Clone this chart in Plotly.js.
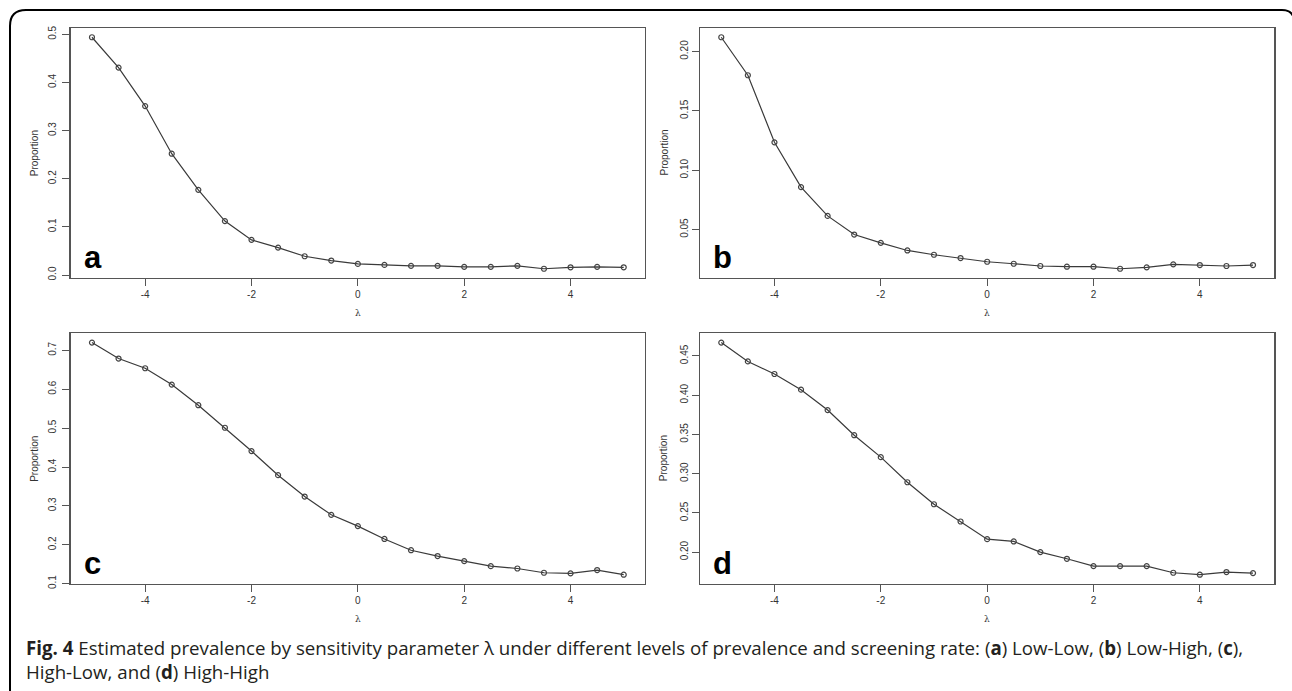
<!DOCTYPE html>
<html>
<head>
<meta charset="utf-8">
<script src="https://cdn.plot.ly/plotly-3.0.1.min.js"></script>
<style>
  html, body { margin: 0; padding: 0; background: #ffffff; }
  #chart { width: 1292px; height: 691px; }
</style>
</head>
<body>
<div id="chart"></div>
<script>
// ---- data ----
const lambdaValues = [-5, -4.5, -4, -3.5, -3, -2.5, -2, -1.5, -1, -0.5, 0, 0.5, 1, 1.5, 2, 2.5, 3, 3.5, 4, 4.5, 5];
const lowLow   = [0.494, 0.431, 0.351, 0.252, 0.177, 0.112, 0.073, 0.057, 0.039, 0.030, 0.023, 0.021, 0.019, 0.019, 0.017, 0.017, 0.019, 0.013, 0.016, 0.017, 0.016];
const lowHigh  = [0.212, 0.180, 0.1235, 0.0858, 0.0615, 0.0458, 0.0388, 0.0324, 0.0288, 0.026, 0.0229, 0.0212, 0.0193, 0.0187, 0.0187, 0.017, 0.0182, 0.0207, 0.0201, 0.0193, 0.0201];
const highLow  = [0.720, 0.679, 0.654, 0.612, 0.559, 0.501, 0.441, 0.379, 0.324, 0.277, 0.248, 0.215, 0.186, 0.171, 0.158, 0.145, 0.139, 0.128, 0.1265, 0.135, 0.123];
const highHigh = [0.467, 0.443, 0.427, 0.407, 0.381, 0.349, 0.321, 0.289, 0.261, 0.239, 0.2165, 0.2136, 0.200, 0.1915, 0.1822, 0.1822, 0.1822, 0.1737, 0.1712, 0.1746, 0.1733];
const panelLetters = ["a", "b", "c", "d"];
const xTickValues = [-4, -2, 0, 2, 4];
const yTickStep = [0.1, 0.05, 0.1, 0.05];
const yTickFormat = [".1f", ".2f", ".1f", ".2f"];
const yAxisTitle = "Proportion";
const xAxisTitle = "λ";
const captionText = "<b>Fig. 4</b> Estimated prevalence by sensitivity parameter λ under different levels of prevalence and screening rate: (<b>a</b>) Low-Low, (<b>b</b>) Low-High, (<b>c</b>),<br>High-Low, and (<b>d</b>) High-High";

// ---- layout helpers ----
const W = 1292, H = 691;
const px = v => v / W;
const py = v => 1 - v / H;

const series = [lowLow, lowHigh, highLow, highHigh];
const boxes = [
  {l: 70.7, r: 645,    t: 28,    b: 278, lblShift: 2},
  {l: 700,  r: 1274.3, t: 28,    b: 278, lblShift: 0},
  {l: 70.7, r: 645,    t: 333.3, b: 584, lblShift: 2},
  {l: 700,  r: 1274.3, t: 333.3, b: 584, lblShift: 0}
];

const tickFont = {family: "Liberation Sans, Arial, sans-serif", size: 10, color: "#333333"};
const traces = [];
const layout = {
  width: W, height: H,
  margin: {l: 0, r: 0, t: 0, b: 0},
  paper_bgcolor: "#ffffff",
  plot_bgcolor: "#ffffff",
  showlegend: false,
  annotations: [],
  shapes: []
};

function rRange(arr) {
  const mn = Math.min(...arr), mx = Math.max(...arr);
  const pad = (mx - mn) * 0.04;
  return [mn - pad, mx + pad];
}

series.forEach((ys, i) => {
  const n = i + 1;
  const xa = n === 1 ? "x" : "x" + n;
  const ya = n === 1 ? "y" : "y" + n;
  traces.push({
    x: lambdaValues, y: ys, xaxis: xa, yaxis: ya,
    type: "scatter", mode: "lines+markers",
    line: {color: "#3a3a3a", width: 1.2},
    marker: {symbol: "circle-open", size: 5, color: "#444444", line: {width: 1.2}},
    hoverinfo: "x+y"
  });
  const bx = boxes[i];
  const xRange = [-5.4, 5.4];
  const yRange = rRange(ys);
  const tick0 = Math.ceil(yRange[0] / yTickStep[i] - 1e-9) * yTickStep[i];
  layout["xaxis" + (n === 1 ? "" : n)] = {
    domain: [px(bx.l), px(bx.r)],
    anchor: ya,
    range: xRange,
    tickmode: "array", tickvals: xTickValues,
    ticktext: xTickValues.map(String),
    ticks: "outside", ticklen: 7, tickwidth: 1, tickcolor: "#555555",
    showline: true, mirror: true, linecolor: "#555555", linewidth: 1.3,
    showgrid: false, zeroline: false,
    tickfont: tickFont, fixedrange: true
  };
  layout["yaxis" + (n === 1 ? "" : n)] = {
    domain: [py(bx.b), py(bx.t)],
    anchor: xa,
    range: yRange,
    tickmode: "linear", tick0: tick0, dtick: yTickStep[i],
    tickformat: yTickFormat[i],
    tickangle: -90,
    ticklabelstandoff: bx.lblShift,
    ticks: "outside", ticklen: 7, tickwidth: 1, tickcolor: "#555555",
    showline: true, mirror: true, linecolor: "#555555", linewidth: 1.3,
    showgrid: false, zeroline: false,
    tickfont: tickFont, fixedrange: true
  };
  // y title
  layout.annotations.push({
    xref: "paper", yref: "paper",
    x: px(bx.l - 36.5), y: py((bx.t + bx.b) / 2),
    text: yAxisTitle, textangle: -90, showarrow: false,
    xanchor: "center", yanchor: "middle",
    font: {family: "Liberation Sans, Arial, sans-serif", size: 10, color: "#333333"}
  });
  // x title
  layout.annotations.push({
    xref: "paper", yref: "paper",
    x: px((bx.l + bx.r) / 2), y: py(bx.b + 35),
    text: xAxisTitle, showarrow: false,
    xanchor: "center", yanchor: "middle",
    font: {family: "DejaVu Serif, serif", size: 9, color: "#333333"}
  });
  // panel letter
  layout.annotations.push({
    xref: "paper", yref: "paper",
    x: px(bx.l + 11), y: py(bx.b - 21),
    text: "<b>" + panelLetters[i] + "</b>", showarrow: false,
    xanchor: "left", yanchor: "middle",
    font: {family: "Liberation Sans, Arial, sans-serif", size: 31, color: "#000000"}
  });
});

// caption (two lines in one text block)
layout.annotations.push({
  xref: "paper", yref: "paper",
  x: px(24), y: py(659), xanchor: "left", yanchor: "middle",
  text: captionText, showarrow: false, align: "left",
  font: {family: "Open Sans, sans-serif", size: 18.7, color: "#231f20"}
});

// outer rounded frame (paper coords)
const f = (x, y) => px(x) + "," + py(y);
layout.shapes.push({
  type: "path", xref: "paper", yref: "paper",
  path: "M " + f(10, 700) + " L " + f(10, 26) + " Q " + f(10, 10) + " " + f(26, 10) +
        " L " + f(1282, 10) + " Q " + f(1294, 10) + " " + f(1294, 22),
  line: {color: "#000000", width: 2}
});

Plotly.newPlot("chart", traces, layout, {displayModeBar: false, staticPlot: true});
</script>
</body>
</html>
